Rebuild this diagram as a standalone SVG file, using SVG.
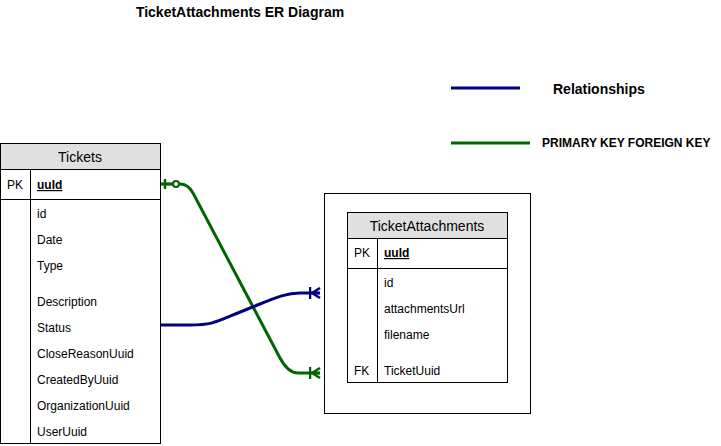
<svg xmlns="http://www.w3.org/2000/svg" width="721" height="446" viewBox="0 0 721 446">
<style>
.t{font-family:"Liberation Sans",Arial,sans-serif;font-size:12px;fill:#000}
.h{font-family:"Liberation Sans",Arial,sans-serif;font-size:14px;fill:#000;text-anchor:middle}
.b{font-family:"Liberation Sans",Arial,sans-serif;font-weight:bold;fill:#000}
.box{fill:#fff;stroke:#000;stroke-width:1}
.hd{fill:#e0e0e0;stroke:#000;stroke-width:1}
.ln{stroke:#000;stroke-width:1;fill:none}
.blue{stroke:#000080;stroke-width:3;fill:none}
.green{stroke:#006600;stroke-width:3;fill:none}
</style>
<defs>
<marker id="manyB" markerUnits="userSpaceOnUse" viewBox="0 0 12 12" markerWidth="12" markerHeight="12" refX="11" refY="6" orient="auto">
<path d="M1 0V12M1 6H11M3 6L11 1M3 6L11 11" stroke="#000080" stroke-width="2.5" fill="none"/>
</marker>
<marker id="manyG" markerUnits="userSpaceOnUse" viewBox="0 0 12 12" markerWidth="12" markerHeight="12" refX="11" refY="6" orient="auto">
<path d="M1 0V12M1 6H11M3 6L11 1M3 6L11 11" stroke="#006600" stroke-width="2.5" fill="none"/>
</marker>
<marker id="zeroOneG" markerUnits="userSpaceOnUse" viewBox="0 0 22 12" markerWidth="22" markerHeight="12" refX="0" refY="6" orient="auto">
<path d="M0 6H12M4 1V11" stroke="#006600" stroke-width="2.5" fill="none"/>
<circle cx="15" cy="6" r="3" fill="#fff" stroke="#006600" stroke-width="2"/>
</marker>
</defs>
<text class="b" x="240" y="17" font-size="14" text-anchor="middle">TicketAttachments ER Diagram</text>
<g id="legend">
<line class="blue" x1="451" y1="88" x2="520" y2="88"/>
<text class="b" x="553" y="94" font-size="14">Relationships</text>
<line class="green" x1="451" y1="143" x2="530" y2="143"/>
<text class="b" x="542" y="147" font-size="12">PRIMARY KEY FOREIGN KEY</text>
</g>
<g id="tickets">
<rect class="hd" x="0.5" y="143.5" width="160" height="26"/>
<text class="h" x="80" y="162">Tickets</text>
<rect class="box" x="0.5" y="169.5" width="160" height="274"/>
<line class="ln" x1="0.5" y1="199.5" x2="160.5" y2="199.5"/>
<line class="ln" x1="30.5" y1="169.5" x2="30.5" y2="443.5"/>
<text class="t" x="7" y="189">PK</text>
<text class="t" x="37" y="189" font-weight="bold" text-decoration="underline">uuId</text>
<text class="t" x="37" y="218">id</text>
<text class="t" x="37" y="244">Date</text>
<text class="t" x="37" y="270">Type</text>
<text class="t" x="37" y="306">Description</text>
<text class="t" x="37" y="332">Status</text>
<text class="t" x="37" y="358">CloseReasonUuid</text>
<text class="t" x="37" y="384">CreatedByUuid</text>
<text class="t" x="37" y="410">OrganizationUuid</text>
<text class="t" x="37" y="436">UserUuid</text>
</g>
<g id="container">
<rect class="box" x="324.5" y="193.5" width="206" height="220"/>
</g>
<g id="ticketattachments">
<rect class="hd" x="347.5" y="212.5" width="160" height="26"/>
<text class="h" x="427" y="231">TicketAttachments</text>
<rect class="box" x="347.5" y="238.5" width="160" height="144"/>
<line class="ln" x1="347.5" y1="268.5" x2="507.5" y2="268.5"/>
<line class="ln" x1="377.5" y1="238.5" x2="377.5" y2="382.5"/>
<text class="t" x="354" y="257">PK</text>
<text class="t" x="384" y="257" font-weight="bold" text-decoration="underline">uuId</text>
<text class="t" x="384" y="287">id</text>
<text class="t" x="384" y="313">attachmentsUrl</text>
<text class="t" x="384" y="339">filename</text>
<text class="t" x="354" y="375">FK</text>
<text class="t" x="384" y="375">TicketUuid</text>
</g>
<g id="connectors">
<path class="green" d="M161 184H180Q188 184 193 193L280 358Q288 373 298 373H320" marker-start="url(#zeroOneG)" marker-end="url(#manyG)"/>
<path class="blue" d="M161 325H190C215 325 215 322 250 308C275 298 285 293 300 293H320" marker-end="url(#manyB)"/>
</g>
</svg>
